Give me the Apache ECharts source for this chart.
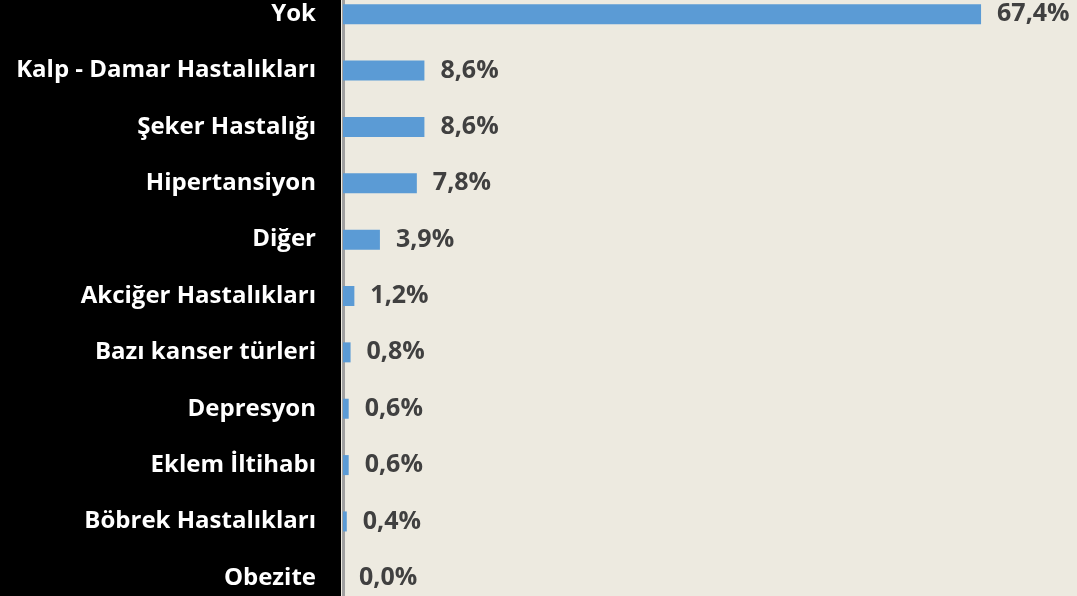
<!DOCTYPE html>
<html>
<head>
<meta charset="utf-8">
<script src="https://cdn.jsdelivr.net/npm/echarts@6/dist/echarts.min.js"></script>
<style>
  html, body { margin: 0; padding: 0; background: #edeae0; overflow: hidden; width: 1077px; height: 596px; }
  /* the category bands run past the top and bottom edges of the picture */
  #chart { position: absolute; left: 0; top: -14px; width: 1077px; height: 620px; }
</style>
</head>
<body>
<div id="chart"></div>
<script>
// Kategoriler (yukaridan asagiya)
var categories = ['Yok', 'Kalp - Damar Hastalıkları', 'Şeker Hastalığı', 'Hipertansiyon', 'Diğer',
    'Akciğer Hastalıkları', 'Bazı kanser türleri', 'Depresyon', 'Eklem İltihabı', 'Böbrek Hastalıkları', 'Obezite'];
var values = [67.4, 8.6, 8.6, 7.8, 3.9, 1.2, 0.8, 0.6, 0.6, 0.4, 0.0];

var chart = echarts.init(document.getElementById('chart'));

var option = {
    backgroundColor: '#edeae0',
    animation: false,
    graphic: [
        { type: 'rect', left: 0, top: 0, shape: { width: 341, height: 620 }, style: { fill: '#000000' }, z: -10 }
    ],
    grid: { left: 343, top: 0, bottom: 0, width: 710, containLabel: false },
    xAxis: {
        type: 'value', min: 0, max: 75,
        show: false, splitLine: { show: false }
    },
    yAxis: {
        type: 'category',
        inverse: true,
        data: categories,
        axisLine: { show: true, lineStyle: { color: '#a0a0a0', width: 3 } },
        axisTick: { show: false },
        axisLabel: {
            color: '#ffffff', fontFamily: 'Open Sans', fontWeight: 'bold', fontSize: 24, margin: 27
        }
    },
    series: [{
        type: 'bar',
        data: values,
        barWidth: 20,
        itemStyle: { color: '#5b9bd5' },
        label: {
            show: true, position: 'right', distance: 16,
            color: '#404040', fontFamily: 'Open Sans', fontWeight: 'bold', fontSize: 25,
            formatter: function (p) { return p.value.toFixed(1).replace('.', ',') + '%'; }
        }
    }]
};

chart.setOption(option);
</script>
</body>
</html>
